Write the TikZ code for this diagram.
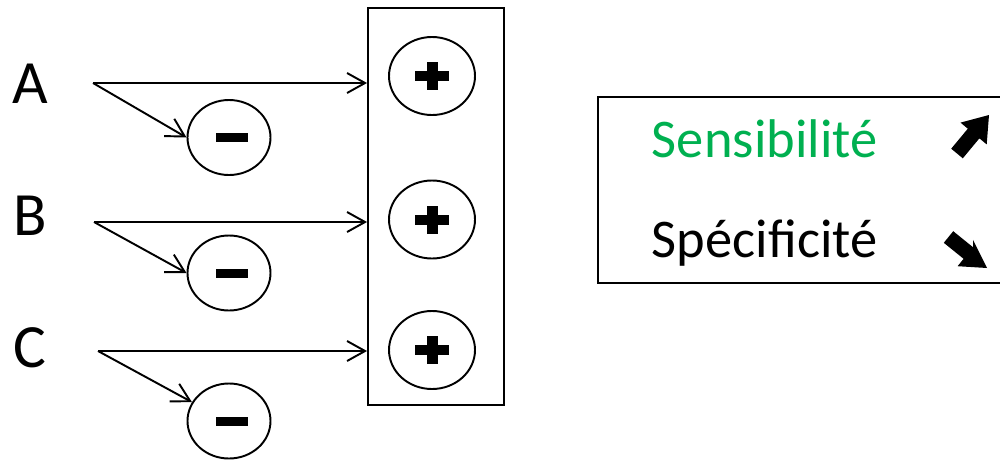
\documentclass[tikz,border=0pt]{standalone}
\usepackage{fontspec}
\setmainfont{Carlito}
\usetikzlibrary{arrows.meta,shapes.geometric}
\definecolor{sensgreen}{RGB}{0,176,80}
\newcommand{\rowfont}{\fontsize{35}{42}\selectfont}
\newcommand{\legendfont}{\fontsize{31}{37}\selectfont}
\tikzset{
  linkarrow/.style={-{Straight Barb[length=0.36cm,width=0.4cm]}},
  minusnode/.style={draw,ellipse,minimum width=1.66cm,minimum height=1.5cm,
    path picture={\fill ([shift={(-0.27,-0.09)}]path picture bounding box.center)
      rectangle ([shift={(0.37,0.09)}]path picture bounding box.center);}},
  plusnode/.style={draw,ellipse,minimum width=1.72cm,minimum height=1.56cm,
    path picture={\fill ([shift={(-0.34,-0.1)}]path picture bounding box.center)
      rectangle ([shift={(0.34,0.1)}]path picture bounding box.center);
      \fill ([shift={(-0.11,-0.28)}]path picture bounding box.center)
      rectangle ([shift={(0.11,0.28)}]path picture bounding box.center);}}
}
\begin{document}
\begin{tikzpicture}[line width=1.1pt]
\clip (0,0) rectangle (20,-9.2);
\node[draw,minimum width=2.72cm,minimum height=7.94cm] (panel) at (8.72,-4.13) {};
% one row per letter: label, start point, minus, plus
\foreach \r/\ly/\sx/\sy/\my/\py/\ang in {A/-1.68/1.86/-1.66/-2.75/-1.52/180,B/-4.32/1.88/-4.44/-5.46/-4.39/180,C/-6.95/1.96/-7.02/-8.42/-7.0/153}
{
\node[font=\rowfont] (l\r) at (0.6,\ly) {\r};
\coordinate (s\r) at (\sx,\sy);
\node[minusnode] (m\r) at (4.58,\my) {};
\node[plusnode] (p\r) at (8.64,\py) {};
\draw[linkarrow] (s\r) -- (s\r -| panel.west);
\draw[linkarrow] (s\r) -- (m\r.\ang);
}
% legend
\draw (11.96,-1.94) rectangle (20.3,-5.66);
\node[anchor=base west,inner sep=0pt,text=sensgreen,font=\legendfont] (sens) at (13.02,-3.14) {Sensibilité};
\node[anchor=base west,inner sep=0pt,font=\legendfont] (spec) at (13.02,-5.14) {Spécificité};
\fill (19.78,-2.30) -- (19.21,-2.452) -- (19.356,-2.574) -- (19.024,-2.974) -- (19.256,-3.166) -- (19.588,-2.766) -- (19.734,-2.888) -- cycle;
\fill (19.74,-5.36) -- (19.46,-4.796) -- (19.46,-4.944) -- (19.064,-4.624) -- (18.876,-4.856) -- (19.272,-5.176) -- (19.152,-5.324) -- cycle;
\end{tikzpicture}
\end{document}
